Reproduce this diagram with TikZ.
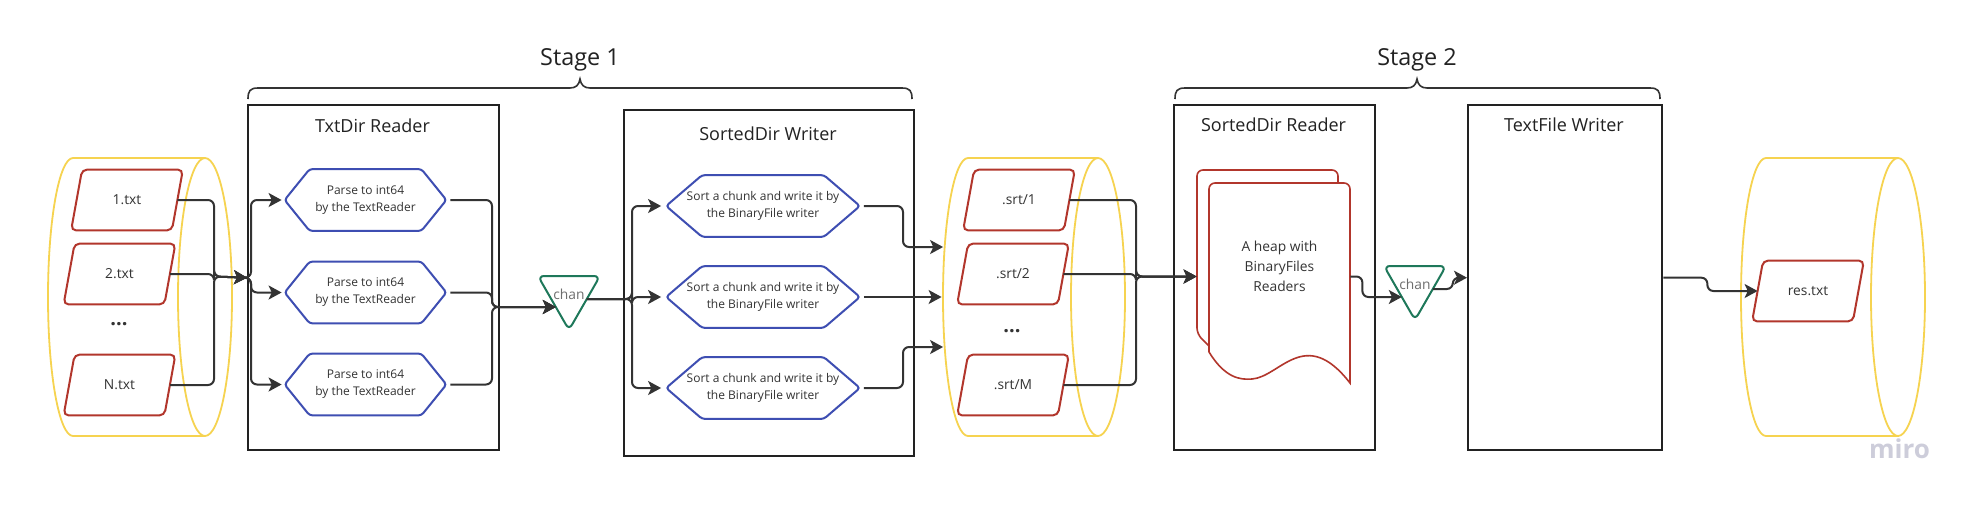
\documentclass[tikz,border=0pt]{standalone}
\usepackage{fontspec}
\setmainfont{Open Sans}
\usetikzlibrary{arrows.meta,calc}
\definecolor{ink}{RGB}{51,51,51}
\definecolor{boxc}{RGB}{34,34,34}
\definecolor{cylc}{RGB}{246,211,80}
\definecolor{filec}{RGB}{178,54,44}
\definecolor{hexc}{RGB}{62,78,178}
\definecolor{chanc}{RGB}{30,120,90}
\definecolor{chantext}{RGB}{110,110,110}
\definecolor{miroc}{RGB}{205,205,218}
\tikzset{
  conn/.style={draw=ink, line width=1pt, rounded corners=3pt},
  arr/.style={conn, -{Stealth[length=6.5pt,width=7pt,inset=1.6pt]}},
  stagebox/.style={draw=boxc, line width=1.2pt, inner sep=0pt, anchor=north west},
  boxtitle/.style={font=\fontsize{9}{11}\selectfont, text=boxc, anchor=base, inner sep=0pt},
  stagelbl/.style={font=\fontsize{11.7}{14}\selectfont, text=boxc, anchor=base, inner sep=0pt},
  filebox/.style={minimum width=50pt, minimum height=30pt, inner sep=0pt, font=\fontsize{6.9}{8}\selectfont, text=ink},
  dotslbl/.style={inner sep=0pt, font=\fontsize{10}{11}\selectfont\bfseries, text=ink},
  fileline/.style={draw=filec, line width=1pt, rounded corners=2.5pt},
  hexbox/.style={minimum height=30.5pt, inner sep=0pt, align=center, font=\fontsize{6}{8.5}\selectfont, text=ink},
  hexline/.style={draw=hexc, line width=1pt, rounded corners=1.5pt},
  cylbox/.style={minimum width=92pt, minimum height=139pt, inner sep=0pt},
  cylline/.style={draw=cylc, line width=0.9pt},
  chanlbl/.style={font=\fontsize{6.9}{8}\selectfont, text=chantext, inner sep=0pt},
  chanline/.style={draw=chanc, line width=1pt, rounded corners=3pt},
  docline/.style={draw=filec, line width=0.8pt},
  bracel/.style={draw=ink, line width=0.8pt},
}
\begin{document}
\begin{tikzpicture}[x=0.5pt, y=-0.5pt]
\useasboundingbox (0,0) rectangle (1977,505);
\fill[white] (0,0) rectangle (1977,505);

% ---------- cylinders ----------
\node[cylbox] (cyl1) at (141,297) {};
\node[cylbox] (cyl2) at (1034,297) {};
\node[cylbox] (cyl3) at (1833,297) {};
\foreach \L/\R in {73/205, 968/1098, 1766/1898}{
  \draw[cylline] (\R,158) -- (\L,158) arc (270:90:25 and 139) -- (\R,436);
  \draw[cylline] (\R,297) ellipse (27 and 139);
}

% ---------- files ----------
\node[filebox] (f1) at (127,200) {1.txt};
\node[filebox] (f2) at (119.5,274) {2.txt};
\node[dotslbl] (fd) at (119,324) {...};
\node[filebox] (f3) at (119.5,385) {N.txt};
\node[filebox] (g1) at (1019,200) {.srt/1};
\node[filebox] (g2) at (1013,274) {.srt/2};
\node[dotslbl] (gd) at (1012,331) {...};
\node[filebox] (g3) at (1013,385) {.srt/M};
\node[filebox] (rs) at (1808,291) {res.txt};
\foreach \n in {f1,f2,f3,g1,g2,g3,rs}{
  \draw[fileline] ($(\n.south west)+(-5.5,0)$) -- ($(\n.north west)+(5.5,0)$)
     -- ($(\n.north east)+(5.5,0)$) -- ($(\n.south east)+(-5.5,0)$) -- cycle;
}

% ---------- stage boxes ----------
\node[stagebox, minimum width=125.5pt, minimum height=172.5pt] (trd) at (247,104) {};
\node[stagebox, minimum width=145pt, minimum height=173pt] (sdw) at (623,109) {};
\node[stagebox, minimum width=100.5pt, minimum height=172.5pt] (sdr) at (1173,104) {};
\node[stagebox, minimum width=97pt, minimum height=172.5pt] (tfw) at (1467,104) {};
\node[boxtitle] (trdT) at (372.5,132) {TxtDir Reader};
\node[boxtitle] (sdwT) at (768,140) {SortedDir Writer};
\node[boxtitle] (sdrT) at (1273.5,131) {SortedDir Reader};
\node[boxtitle] (tfwT) at (1564,131) {TextFile Writer};

% ---------- hexagons ----------
\node[hexbox, minimum width=80.5pt] (h1) at (365.5,200) {Parse to int64\\by the TextReader};
\node[hexbox, minimum width=80.5pt] (h2) at (365.5,292.5) {Parse to int64\\by the TextReader};
\node[hexbox, minimum width=80.5pt] (h3) at (365.5,384.5) {Parse to int64\\by the TextReader};
\foreach \n in {h1,h2,h3}{
  \draw[hexline] (\n.west) -- ($(\n.north west)+(25,0)$) -- ($(\n.north east)+(-25,0)$)
     -- (\n.east) -- ($(\n.south east)+(-25,0)$) -- ($(\n.south west)+(25,0)$) -- cycle;
}
\node[hexbox, minimum width=96.5pt] (w1) at (763,206) {Sort a chunk and write it by\\the BinaryFile writer};
\node[hexbox, minimum width=96.5pt] (w2) at (763,297) {Sort a chunk and write it by\\the BinaryFile writer};
\node[hexbox, minimum width=96.5pt] (w3) at (763,388) {Sort a chunk and write it by\\the BinaryFile writer};
\foreach \n in {w1,w2,w3}{
  \draw[hexline] (\n.west) -- ($(\n.north west)+(36,0)$) -- ($(\n.north east)+(-36,0)$)
     -- (\n.east) -- ($(\n.south east)+(-36,0)$) -- ($(\n.south west)+(36,0)$) -- cycle;
}

% ---------- channels ----------
\node[chanlbl] (c1) at (569,294) {chan};
\node[chanlbl] (c2) at (1415,284) {chan};
\foreach \n in {c1,c2}{
  \draw[chanline] ($(\n.center)+(-31,-18)$) -- ($(\n.center)+(31,-18)$) -- ($(\n.center)+(0,36)$) -- cycle;
}

% ---------- document (heap) ----------
\node[minimum width=76.5pt, minimum height=106.5pt, inner sep=0pt] (heap) at (1273.5,276.5) {};
\draw[docline, rounded corners=3pt] (1209,346) -- (1197,334) -- (1197,170) -- (1338,170) -- (1338,183);
\draw[docline, fill=white] (1209,352) [rounded corners=3pt] -- (1209,183) -- (1350,183) [sharp corners] -- (1350,383)
   .. controls (1305,325) and (1280,377) .. (1252,379)
   .. controls (1240,380) and (1225,378) .. (1209,352);
\node[align=center, font=\fontsize{6.9}{10}\selectfont, text=ink, inner sep=0pt] (heaptxt) at (1279.5,266) {A heap with\\BinaryFiles\\Readers};

% ---------- braces and stage labels ----------
\draw[bracel] (248,99) .. controls (248,91) and (250,88) .. (258,88) -- (570,88)
   .. controls (576,88) and (579,85) .. (580,79) .. controls (581,85) and (584,88) .. (590,88)
   -- (902,88) .. controls (910,88) and (912,91) .. (912,99);
\draw[bracel] (1175,99) .. controls (1175,91) and (1177,88) .. (1185,88) -- (1407,88)
   .. controls (1413,88) and (1416,85) .. (1417,79) .. controls (1418,85) and (1421,88) .. (1427,88)
   -- (1650,88) .. controls (1658,88) and (1660,91) .. (1660,99);
\node[stagelbl] (st1) at (580,65) {Stage 1};
\node[stagelbl] (st2) at (1417,65) {Stage 2};

% ---------- connectors ----------
\coordinate (jA) at (214,276.5);
\foreach \n in {f1,f2,f3} \draw[arr] (\n.east) -| (jA) -- (trd.west);
\foreach \n in {h1,h2,h3} \draw[arr, shorten >=1.5pt] (trd.west) -- ++(4,0) |- (\n.west);

\coordinate (c1in) at ($(c1.center)+(-13.2,13)$);
\coordinate (jB) at (492,307);
\foreach \n in {h1,h2,h3} \draw[arr, shorten <=2pt] (\n.east) -| (jB) -- (c1in);

\coordinate (c1out) at ($(c1.center)+(17.8,5)$);
\coordinate (jC) at (632,0);
\foreach \n in {w1,w2,w3} \draw[arr, shorten >=2.5pt] (c1out) -- (c1out -| jC) |- (\n.west);

\coordinate (k1) at ($(cyl2.west)+(1.5,-50)$);
\coordinate (k3) at ($(cyl2.west)+(1.5,50)$);
\coordinate (jD) at (903,0);
\draw[arr, shorten <=2pt] (w1.east) -| (jD |- k1) -- (k1);
\draw[arr, shorten <=2pt] (w2.east) -- (w2.east -| cyl2.west);
\draw[arr, shorten <=2pt] (w3.east) -| (jD |- k3) -- (k3);

\coordinate (jE) at (1136,276.5);
\foreach \n in {g1,g2,g3} \draw[arr] (\n.east) -| (jE) -- (heap.west);

\coordinate (c2in) at ($(c2.center)+(-13.2,13)$);
\draw[arr] (heap.east) -- ++(12,0) |- (c2in);
\coordinate (c2out) at ($(c2.center)+(17.8,5)$);
\draw[arr] (c2out) -- ++(20,0) |- (tfw.west);
\draw[arr] (tfw.east) -- ++(44,0) |- (rs.west);

% ---------- watermark ----------
\node[anchor=base, inner sep=0pt, font=\fontsize{13}{14}\selectfont\bfseries, text=miroc] (miro) at (1899.5,458) {miro};
\end{tikzpicture}
\end{document}
